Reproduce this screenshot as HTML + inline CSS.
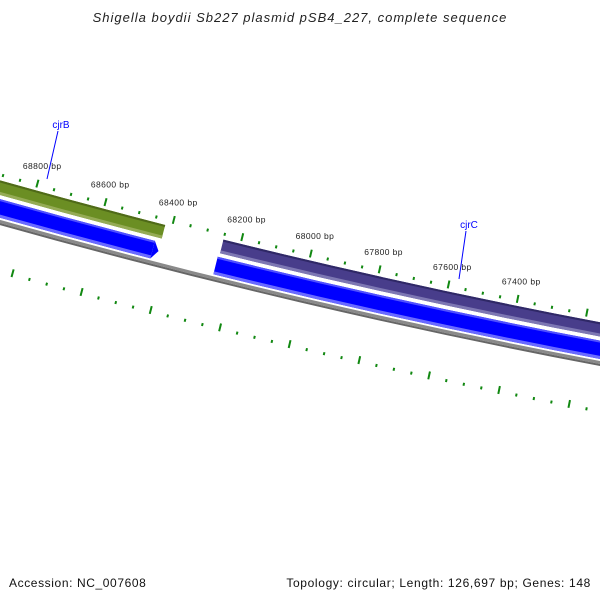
<!DOCTYPE html>
<html><head><meta charset="utf-8"><style>
html,body{margin:0;padding:0;background:#fff;}
svg{display:block;font-family:"Liberation Sans",sans-serif;}
</style></head><body>
<svg id="map" width="600" height="600" viewBox="0 0 600 600">
<text x="300" y="22" text-anchor="middle" font-size="13" font-style="italic" letter-spacing="1" fill="#222">Shigella boydii Sb227 plasmid pSB4_227, complete sequence</text>
<g id="rings"></g>
<text x="9" y="587" font-size="12" letter-spacing="0.6" fill="#111">Accession: NC_007608</text>
<text x="591" y="587" text-anchor="end" font-size="12" letter-spacing="0.65" fill="#111">Topology: circular; Length: 126,697 bp; Genes: 148</text>
</svg>
<script>
const seqLength = 126697;
const featureNames = ['cjrB', 'cjrC'];
const featureStarts = [68420, 66000];
const featureEnds = [70500, 68250];
const featureColors = ['#6b8e23', '#483d8b'];
const featureDark = ['#4f6a18', '#2f2866'];
const featureLight = ['#95ab55', '#7d77b3'];
const blueStarts = [68420, 66000];
const blueEnds = [70500, 68254];
const tickLabels = [68800, 68600, 68400, 68200, 68000, 67800, 67600, 67400];

const CX = 1937.5, CY = -6673, RT = 7115, REFBP = 68100, REFANG = 103.5;
const NS = 'http://www.w3.org/2000/svg';
const g = document.getElementById('rings');
function ang(bp){ return (REFANG + (bp - REFBP) * 360 / seqLength) * Math.PI / 180; }
function pt(bp, r){ const a = ang(bp); return [CX + r * Math.cos(a), CY + r * Math.sin(a)]; }
function band(b1, b2, r1, r2, fill, name){
  const p1 = pt(b1, r1), p2 = pt(b2, r1), p3 = pt(b2, r2), p4 = pt(b1, r2);
  const d = `M${p1[0]},${p1[1]} A${r1},${r1} 0 0 1 ${p2[0]},${p2[1]} L${p3[0]},${p3[1]} A${r2},${r2} 0 0 0 ${p4[0]},${p4[1]} Z`;
  const e = document.createElementNS(NS, 'path');
  e.setAttribute('d', d); e.setAttribute('fill', fill);
  
  
  g.appendChild(e); return e;
}
function line(a, b, col, w, name){
  const e = document.createElementNS(NS, 'line');
  e.setAttribute('x1', a[0]); e.setAttribute('y1', a[1]);
  e.setAttribute('x2', b[0]); e.setAttribute('y2', b[1]);
  e.setAttribute('stroke', col); e.setAttribute('stroke-width', w);
  
  
  g.appendChild(e); return e;
}
// backbone
band(64000, 72000, RT+45, RT+48, '#8a8a8a', 'backbone');
band(64000, 72000, RT+48, RT+50, '#666', 'backbone-shade');
// features (top strand)
for (let i = 0; i < featureNames.length; i++){
  band(featureStarts[i], featureEnds[i], RT+7, RT+21, featureColors[i], 'feature-' + featureNames[i]);
  band(featureStarts[i], featureEnds[i], RT+7, RT+9, featureDark[i], 'feature-edge-' + featureNames[i]);
  band(featureStarts[i], featureEnds[i], RT+18, RT+21, featureLight[i], 'feature-light-' + featureNames[i]);
}
// blue features (other strand)
for (let i = 0; i < blueStarts.length; i++){
  const s = blueStarts[i] + (i === 0 ? 17 : 0);
  band(s, blueEnds[i], RT+25, RT+43, '#0000ff', 'blue-feature-' + i);
  band(s, blueEnds[i], RT+25, RT+27, '#5050ff', 'blue-feature-top-' + i);
  band(s, blueEnds[i], RT+40, RT+43, '#6a6aff', 'blue-feature-bottom-' + i);
  if (i === 0){
    const a = pt(s, RT+25), tip = pt(blueStarts[i], RT+34), b = pt(s, RT+43);
    const e = document.createElementNS(NS, 'path');
    e.setAttribute('d', `M${a[0]},${a[1]} L${tip[0]},${tip[1]} L${b[0]},${b[1]} Z`);
    e.setAttribute('fill', '#0000ff');
    
    
    g.appendChild(e);
  }
}
// ticks
for (let bp = 66000; bp <= 70500; bp += 50){
  const major = bp % 200 === 0;
  const rings = [RT, RT + 93];
  rings.forEach((r, k) => {
    const r1 = major ? r - 4 : r, r2 = major ? r + 4 : r + 3;
    line(pt(bp, r1), pt(bp, r2), '#118811', 2, major ? 'major-tick' : 'minor-tick');
  });
}
tickLabels.forEach(bp => {
  const p = pt(bp, RT - 18);
  const t = document.createElementNS(NS, 'text');
  t.setAttribute('x', p[0]); t.setAttribute('y', p[1] + 3);
  t.setAttribute('text-anchor', 'middle'); t.setAttribute('font-size', '8.5');
  t.setAttribute('letter-spacing', '0.4');
  t.setAttribute('fill', '#222');
  t.textContent = bp + ' bp';
  
  
  g.appendChild(t);
});
// feature labels
const labelText = ['cjrB', 'cjrC'];
const labelX = [61, 469], labelY = [128, 228];
const lineEnd = [[47, 179], [459, 279]];
for (let i = 0; i < labelText.length; i++){
  line([labelX[i] - 3, labelY[i] + 3], lineEnd[i], '#0000ff', 1, 'label-leader-' + labelText[i]);
  const t = document.createElementNS(NS, 'text');
  t.setAttribute('x', labelX[i]); t.setAttribute('y', labelY[i]);
  t.setAttribute('text-anchor', 'middle'); t.setAttribute('font-size', '10');
  t.setAttribute('fill', '#0000ff');
  t.textContent = labelText[i];
  
  
  g.appendChild(t);
}
</script>
</body></html>
